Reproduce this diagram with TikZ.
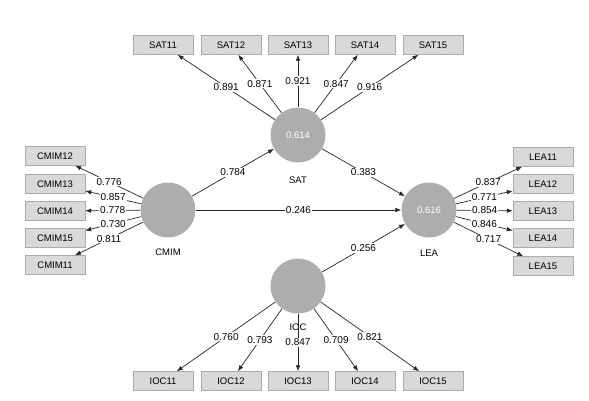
\documentclass[tikz,border=0pt]{standalone}
\usepackage{fontspec}
\setmainfont{Liberation Sans}
\usetikzlibrary{arrows.meta}
\definecolor{ind-fill}{HTML}{D9D9D9}
\definecolor{ind-line}{HTML}{ABABAB}
\definecolor{lv-fill}{HTML}{ADADAD}

\begin{document}
\begin{tikzpicture}[x=1pt, y=-1pt,
        every node/.style={font=\fontsize{9.5}{11}\selectfont},
        ind/.style={draw=ind-line, fill=ind-fill, minimum width=60pt,
                    minimum height=19pt, inner sep=0pt},
        lv/.style={circle, fill=lv-fill, minimum size=55pt, inner sep=0pt,
                   text=white},
        ld/.style={fill=white, inner sep=1pt, pos=0.5,
                   font=\fontsize{10}{11}\selectfont},
        arr/.style={-{Latex[length=6pt,width=4.5pt]}, line width=0.7pt,
                    draw=black!85}]
      \useasboundingbox (0,0) rectangle (589,400);
      % latent variables
      \node[lv] (SAT)  at (298,135) {0.614};
      \node[lv] (CMIM) at (168,210) {};
      \node[lv] (LEA)  at (429,210) {0.616};
      \node[lv] (IOC)  at (298,286) {};
      \node (SATname)  at (298,180) {SAT};
      \node (CMIMname) at (168,252) {CMIM};
      \node (LEAname)  at (429,253) {LEA};
      \node (IOCname)  at (298,327) {IOC};
      % indicators
      \node[ind] (SAT11) at (163,45) {SAT11};
      \node[ind] (SAT12) at (231,45) {SAT12};
      \node[ind] (SAT13) at (298,45) {SAT13};
      \node[ind] (SAT14) at (365,45) {SAT14};
      \node[ind] (SAT15) at (433,45) {SAT15};
      \node[ind] (CMIM12) at (55,156) {CMIM12};
      \node[ind] (CMIM13) at (55,184) {CMIM13};
      \node[ind] (CMIM14) at (55,211) {CMIM14};
      \node[ind] (CMIM15) at (55,238) {CMIM15};
      \node[ind] (CMIM11) at (55,265) {CMIM11};
      \node[ind] (LEA11) at (543,157) {LEA11};
      \node[ind] (LEA12) at (543,184) {LEA12};
      \node[ind] (LEA13) at (543,211) {LEA13};
      \node[ind] (LEA14) at (543,238) {LEA14};
      \node[ind] (LEA15) at (543,266) {LEA15};
      \node[ind] (IOC11) at (163,381) {IOC11};
      \node[ind] (IOC12) at (231,381) {IOC12};
      \node[ind] (IOC13) at (298,381) {IOC13};
      \node[ind] (IOC14) at (365,381) {IOC14};
      \node[ind] (IOC15) at (433,381) {IOC15};
      % outer loadings
      \draw[arr] (SAT) -- node[ld] {0.891} (SAT11);
      \draw[arr] (SAT) -- node[ld] {0.871} (SAT12);
      \draw[arr] (SAT) -- node[ld] {0.921} (SAT13);
      \draw[arr] (SAT) -- node[ld] {0.847} (SAT14);
      \draw[arr] (SAT) -- node[ld] {0.916} (SAT15);
      \draw[arr] (CMIM) -- node[ld] {0.776} (CMIM12);
      \draw[arr] (CMIM) -- node[ld] {0.857} (CMIM13);
      \draw[arr] (CMIM) -- node[ld] {0.778} (CMIM14);
      \draw[arr] (CMIM) -- node[ld] {0.730} (CMIM15);
      \draw[arr] (CMIM) -- node[ld] {0.811} (CMIM11);
      \draw[arr] (LEA) -- node[ld] {0.837} (LEA11);
      \draw[arr] (LEA) -- node[ld] {0.771} (LEA12);
      \draw[arr] (LEA) -- node[ld] {0.854} (LEA13);
      \draw[arr] (LEA) -- node[ld] {0.846} (LEA14);
      \draw[arr] (LEA) -- node[ld] {0.717} (LEA15);
      \draw[arr] (IOC) -- node[ld] {0.760} (IOC11);
      \draw[arr] (IOC) -- node[ld] {0.793} (IOC12);
      \draw[arr] (IOC) -- node[ld] {0.847} (IOC13);
      \draw[arr] (IOC) -- node[ld] {0.709} (IOC14);
      \draw[arr] (IOC) -- node[ld] {0.821} (IOC15);
      % path coefficients
      \draw[arr] (CMIM) -- node[ld] {0.784} (SAT);
      \draw[arr] (CMIM) -- node[ld] {0.246} (LEA);
      \draw[arr] (SAT) -- node[ld] {0.383} (LEA);
      \draw[arr] (IOC) -- node[ld] {0.256} (LEA);
    \end{tikzpicture}
\end{document}
